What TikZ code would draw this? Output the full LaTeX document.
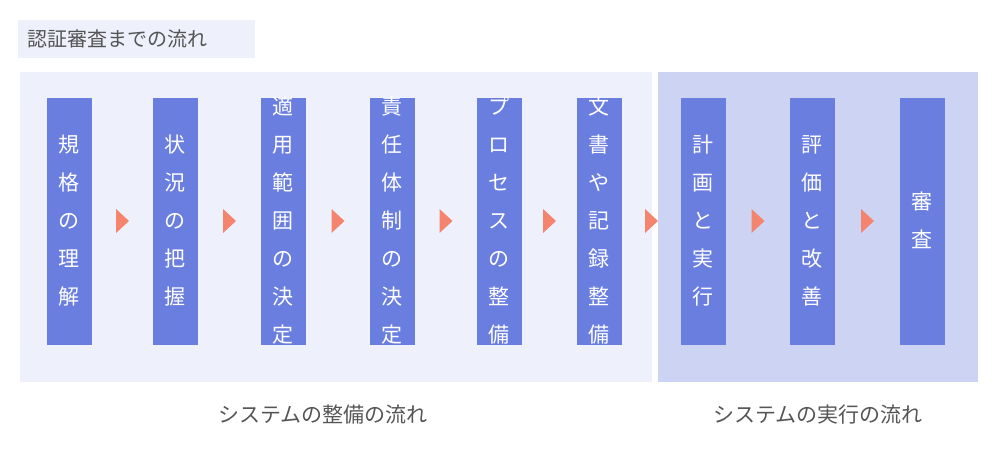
\documentclass[tikz,border=0pt]{standalone}
\usepackage{fontspec}
\newfontfamily\jpfont{Noto Sans CJK JP}
\usetikzlibrary{positioning, calc, shapes.geometric}
\definecolor{panelA}{HTML}{EEF0FB}
\definecolor{panelB}{HTML}{CDD3F3}
\definecolor{barblue}{HTML}{6A7EE0}
\definecolor{arrowred}{HTML}{F4846E}
\definecolor{txtgray}{HTML}{555555}
\newcommand{\vtext}[1]{\begin{tabular}{@{}c@{}}#1\end{tabular}}
\begin{document}
\begin{tikzpicture}[x=1pt, y=-1pt, font=\jpfont,
    bar/.style={rectangle, fill=barblue, minimum width=45pt, minimum height=247pt, inner sep=0pt},
    bartext/.style={text=white, inner sep=0pt, font=\jpfont\fontsize{21}{38}\selectfont},
    caption/.style={text=txtgray, font=\jpfont\fontsize{21}{24}\selectfont},
    tip/.style={fill=arrowred}
]
    \useasboundingbox (0,0) rectangle (1000,450);
    % title and panels
    \fill[panelA] (18,20) rectangle (255,58);
    \node[caption, anchor=west, font=\jpfont\fontsize{20}{24}\selectfont] (title) at (24,39) {認証審査までの流れ};
    \fill[panelA] (20,72) rectangle (652,382);
    \fill[panelB] (658,72) rectangle (978,382);
    % bars
    \foreach \n/\x/\t in {b1/69/{規\\格\\の\\理\\解}, b2/175/{状\\況\\の\\把\\握},
        b3/283/{適\\用\\範\\囲\\の\\決\\定}, b4/392/{責\\任\\体\\制\\の\\決\\定},
        b5/499/{プ\\ロ\\セ\\ス\\の\\整\\備}, b6/599/{文\\書\\や\\記\\録\\整\\備},
        b7/703/{計\\画\\と\\実\\行}, b8/812/{評\\価\\と\\改\\善}, b9/922/{審\\査}} {
        \node[bar] (\n) at (\x,221) {};
        \node[bartext] (\n t) at (\n) {\vtext{\t}};
    }
    % arrow tips
    \foreach \a/\b in {b1/b2, b2/b3, b3/b4, b4/b5, b5/b6, b6/b7, b7/b8, b8/b9} {
        \coordinate (m) at ($(\a.east)!0.5!(\b.west)$);
        \fill[tip] ($(m)+(-6,-12)$) -- ($(m)+(7,0)$) -- ($(m)+(-6,12)$) -- cycle;
    }
    % captions
    \node[caption] (capA) at (323,415) {システムの整備の流れ};
    \node[caption] (capB) at (818,415) {システムの実行の流れ};
\end{tikzpicture}
\end{document}
